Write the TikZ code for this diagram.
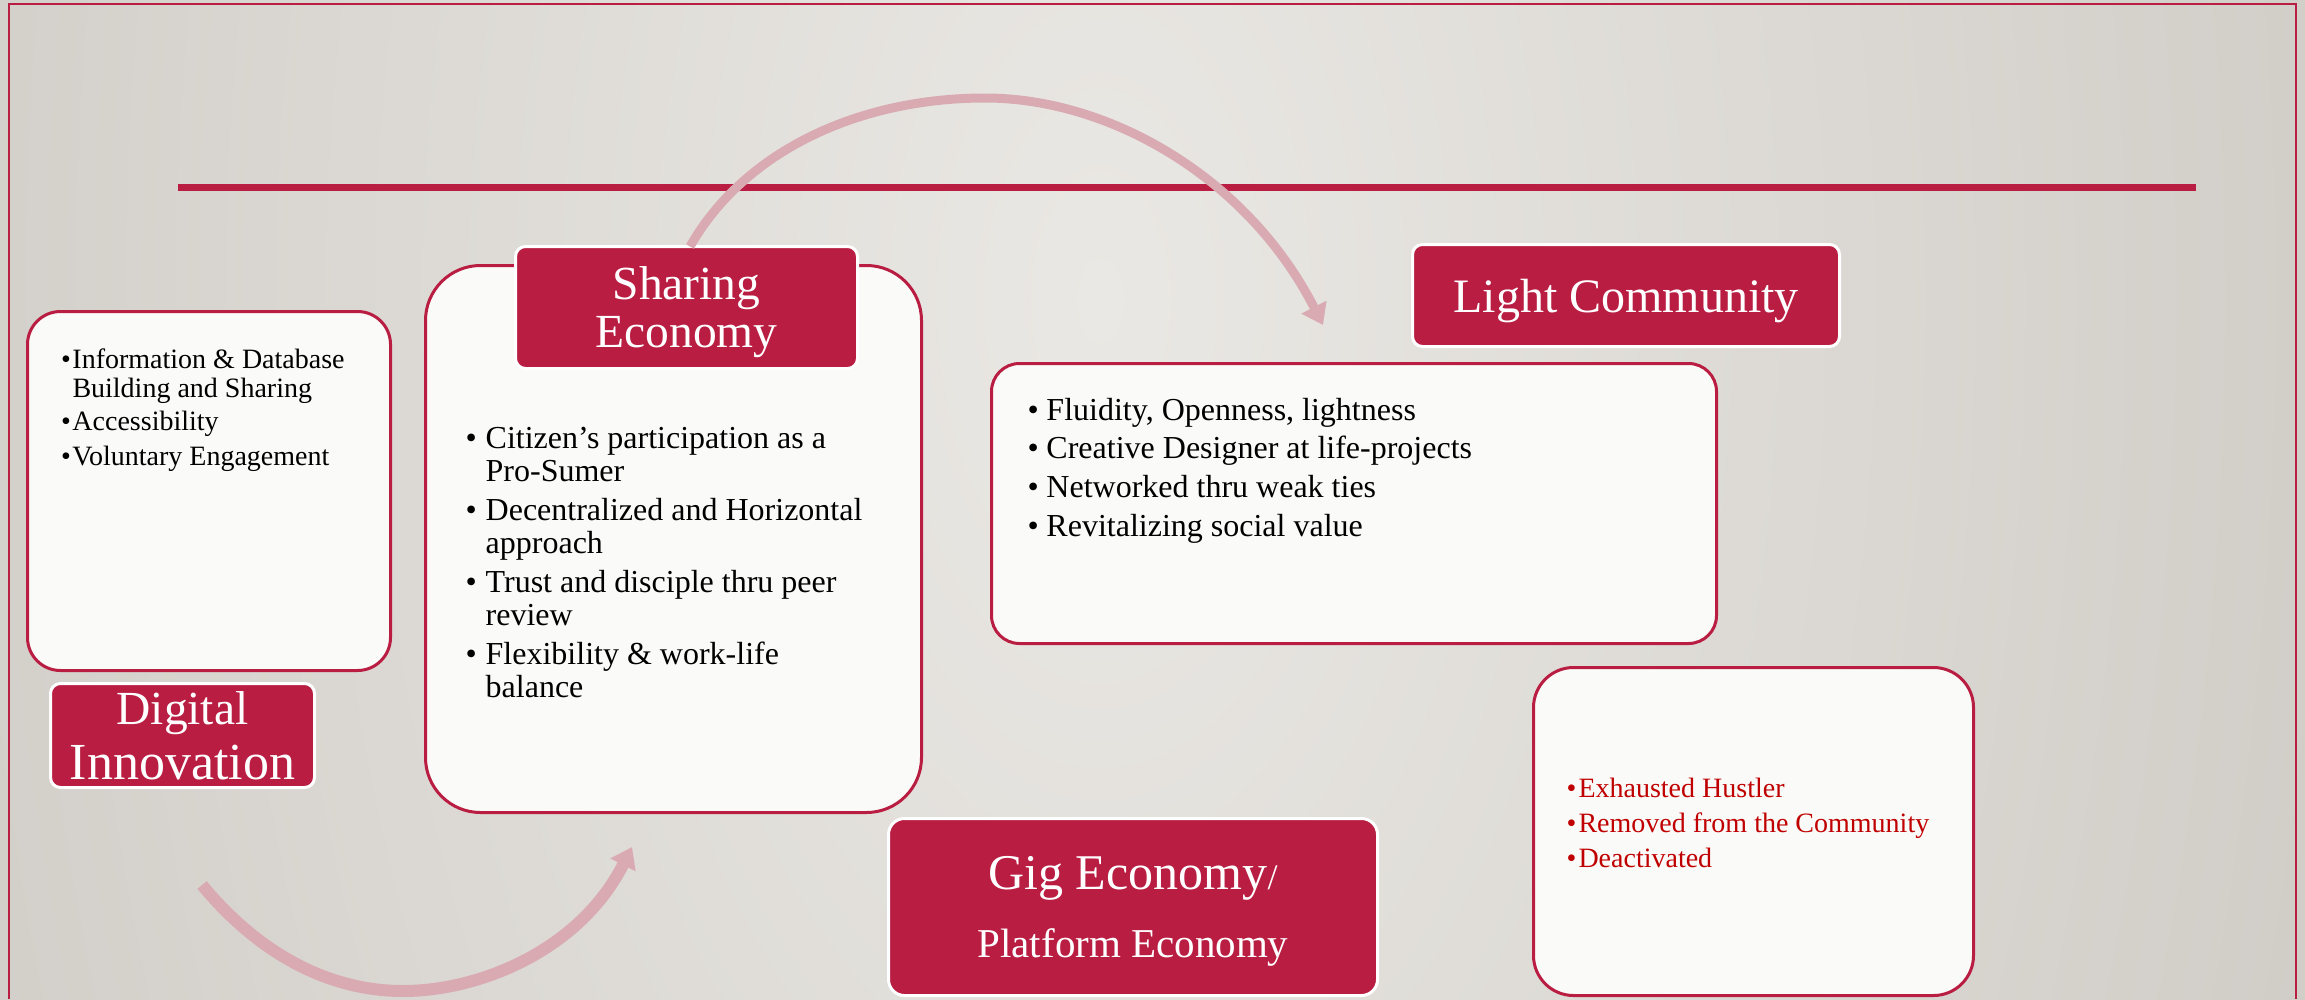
\documentclass[tikz,border=0pt]{standalone}
\usepackage{fontspec}
\setmainfont{Liberation Serif}
\usetikzlibrary{arrows.meta, positioning}

\definecolor{deepred}{RGB}{185,29,66}
\definecolor{arcpink}{RGB}{217,170,178}
\definecolor{boxwhite}{RGB}{250,250,248}
\definecolor{hustred}{RGB}{192,0,0}
\definecolor{bglight}{RGB}{234,232,228}
\definecolor{bgdark}{RGB}{190,185,178}

\newcommand{\fs}[2]{\fontsize{#1}{#2}\selectfont}
\newcommand{\bl}[1]{\makebox[#1][l]{\textbullet}}

\begin{document}
\begin{tikzpicture}[x=1pt, y=-1pt,
  box/.style={draw=deepred, line width=3pt, fill=boxwhite, rounded corners=#1,
    anchor=north west, inner sep=0pt, outer sep=0pt},
  box/.default=30pt,
  lab/.style={draw=white, line width=3pt, fill=deepred, text=white, rounded corners=#1,
    align=center, text depth=0pt, inner sep=0pt, outer sep=0pt},
  lab/.default=10pt,
  items/.style={anchor=north west, inner sep=0pt, outer sep=0pt, align=left},
  arc/.style={draw=arcpink, -{Triangle[width=27pt, length=20pt]}}]

	% background and frame
	\useasboundingbox (0,0) rectangle (2305,999);
	\begin{scope}
		\clip (0,0) rectangle (2305,999);
		\shade[inner color=bglight, outer color=bgdark] (-1100,-3700) rectangle (3300,4300);
	\end{scope}
	\draw[deepred, line width=2pt] (9,999) -- (9,4) -- (2296,4) -- (2296,999);
	\draw[deepred, line width=7pt] (178,187) -- (2196,187);

	% boxes
	\node[box=33pt, minimum width=363pt, minimum height=359pt] (digbox) at (27.5,311.5) {};
	\node[box=55pt, minimum width=496pt, minimum height=547pt] (sharebox) at (425.5,265.5) {};
	\node[box=28pt, minimum width=725pt, minimum height=280pt] (lightbox) at (991.5,363.5) {};
	\node[box=40pt, minimum width=440pt, minimum height=328pt] (hustbox) at (1533.5,667.5) {};

	% titles
	\node[lab, minimum width=264pt, minimum height=104pt, below right=13pt and 23pt of digbox.south west,
	  font=\fs{52}{55}] (diglab) {{\fs{47.5}{55}Digital}\\Innovation};
	\node[lab, minimum width=342pt, minimum height=122pt, font=\fs{47.5}{48}] (sharelab) at (686.5,307.5) {Sharing\\Economy};
	\node[lab, minimum width=427pt, minimum height=102pt, above right=17pt and 421pt of lightbox.north west,
	  font=\fs{48}{48}] (lightlab) {Light Community};
	\node[lab=16pt, minimum width=489pt, minimum height=177pt, text depth=-15pt,
	  font=\fs{41}{68}] (giglab) at (1133,907) {{\fs{50}{68}Gig Economy}{\fs{36}{68}/}\\Platform Economy};

	% bullet lists
	\node[items, font=\fs{28}{28.6}, below right=37.5pt and 33.5pt of digbox.north west] (digtext)
	  {\bl{11.5pt}Information \& Database\\
	   \hspace*{11.5pt}Building and Sharing\\[5pt]
	   \bl{11.5pt}Accessibility\\[5.5pt]
	   \bl{11.5pt}Voluntary Engagement};
	\node[items, font=\fs{32}{33}, below right=161.5pt and 40pt of sharebox.north west] (sharetext)
	  {\bl{20.2pt}Citizen’s participation as a\\
	   \hspace*{20.2pt}Pro-Sumer\\[6pt]
	   \bl{20.2pt}Decentralized and Horizontal\\
	   \hspace*{20.2pt}approach\\[6pt]
	   \bl{20.2pt}Trust and disciple thru peer\\
	   \hspace*{20.2pt}review\\[6pt]
	   \bl{20.2pt}Flexibility \& work-life\\
	   \hspace*{20.2pt}balance};
	\node[items, font=\fs{32}{38.7}, below right=34.5pt and 36pt of lightbox.north west] (lighttext)
	  {\bl{19pt}Fluidity, Openness, lightness\\
	   \bl{19pt}Creative Designer at life-projects\\
	   \bl{19pt}Networked thru weak ties\\
	   \bl{19pt}Revitalizing social value};
	\node[items, font=\fs{28}{35}, text=hustred, below right=110.5pt and 33pt of hustbox.north west] (husttext)
	  {\bl{12pt}Exhausted Hustler\\
	   \bl{12pt}Removed from the Community\\
	   \bl{12pt}Deactivated};

	% cycle arrows
	\coordinate (toptip) at (1323,325);
	\coordinate (loopstart) at (202,885);
	\coordinate (looptip) at (632,847);
	\draw[arc, line width=9pt] ([xshift=3.5pt]sharelab.north) .. controls (745,150) and (860,98) .. (985,98)
	  .. controls (1110,98) and (1248,178) .. (toptip);
	\draw[arc, line width=12pt] (loopstart) .. controls (260,955) and (330,991) .. (403,991)
	  .. controls (480,991) and (580,950) .. (looptip);
\end{tikzpicture}
\end{document}
